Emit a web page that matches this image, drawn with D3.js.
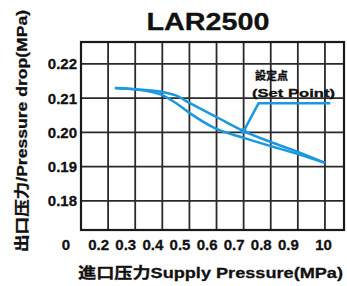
<!DOCTYPE html>
<html lang="zh">
<head>
<meta charset="UTF-8">
<title>LAR2500</title>
<script src="https://d3js.org/d3.v7.min.js"></script>
<style>
  body { margin: 0; background: #fff; }
  text { font-family: "Liberation Sans", Arial, "Noto Sans CJK SC", sans-serif; font-weight: bold; fill: #111; stroke: #111; stroke-width: 0.3; }
</style>
</head>
<body>
<div id="chart"></div>
<script>
// chart data
var title = "LAR2500";
var supplyA = [0.225, 0.3, 0.4, 0.45, 0.5, 0.6, 0.7, 0.8, 0.9, 1.0];
var dropA   = [0.213, 0.2126, 0.2118, 0.2108, 0.2086, 0.2045, 0.2004, 0.1972, 0.1943, 0.1911];
var supplyB = [0.225, 0.3, 0.4, 0.45, 0.5, 0.6, 0.7, 0.8, 0.9, 1.0];
var dropB   = [0.213, 0.2126, 0.2109, 0.2086, 0.2057, 0.201, 0.1984, 0.196, 0.1937, 0.1911];
var xTicks = [0.2, 0.3, 0.4, 0.5, 0.6, 0.7, 0.8, 0.9, 1.0];
var xTickLabels = ["0.2", "0.3", "0.4", "0.5", "0.6", "0.7", "0.8", "0.9", "10"];
var yTicks = [0.22, 0.21, 0.20, 0.19, 0.18];
var setPoint = [0.7, 0.2004];
var setLeader = [[0.7, 0.2004], [0.755, 0.2085], [1.02, 0.2085]];

var width = 347, height = 286;
var blue = "#1b98de";

var svg = d3.select("#chart").append("svg")
    .attr("width", width)
    .attr("height", height);

// scales
var x = d3.scaleLinear().domain([0.1, 1.074]).range([81, 345]);
var y = d3.scaleLinear().domain([0.1715, 0.2264]).range([230, 42]);

// grid lines
var gridX = d3.range(0.1, 1.05, 0.1);
svg.append("g").selectAll("line").data(gridX).enter().append("line")
    .attr("x1", function(d){ return x(d); })
    .attr("x2", function(d){ return x(d); })
    .attr("y1", y.range()[1])
    .attr("y2", y.range()[0])
    .attr("stroke", "#2a2a2a")
    .attr("stroke-width", 1.8);

svg.append("g").selectAll("line").data(yTicks).enter().append("line")
    .attr("x1", x.range()[0])
    .attr("x2", x.range()[1])
    .attr("y1", function(d){ return y(d); })
    .attr("y2", function(d){ return y(d); })
    .attr("stroke", "#2a2a2a")
    .attr("stroke-width", 1.8);

// frame
svg.append("rect")
    .attr("x", x.range()[0])
    .attr("y", y.range()[1])
    .attr("width", x.range()[1] - x.range()[0] - 1)
    .attr("height", y.range()[0] - y.range()[1])
    .attr("fill", "none")
    .attr("stroke", "#1a1a1a")
    .attr("stroke-width", 2.2);

// tick labels
svg.append("g").selectAll("text").data(yTicks).enter().append("text")
    .attr("x", x.range()[0] - 4)
    .attr("y", function(d){ return y(d); })
    .attr("dy", "0.36em")
    .attr("text-anchor", "end")
    .attr("font-size", "15px")
    .text(function(d){ return d3.format(".2f")(d); });

svg.append("g").selectAll("text").data(xTicks).enter().append("text")
    .attr("x", function(d, i){ return i == xTicks.length - 1 ? x(d) + 7 : x(d) + 1; })
    .attr("y", 250)
    .attr("text-anchor", "end")
    .attr("font-size", "15px")
    .text(function(d, i){ return xTickLabels[i]; });

svg.append("text")
    .attr("x", x(0.1) - 11)
    .attr("y", 250)
    .attr("text-anchor", "end")
    .attr("font-size", "15px")
    .text("0");

// curves
var line = d3.line()
    .x(function(d){ return x(d[0]); })
    .y(function(d){ return y(d[1]); })
    .curve(d3.curveMonotoneX);

svg.append("path")
    .datum(d3.zip(supplyA, dropA))
    .attr("d", line)
    .attr("fill", "none")
    .attr("stroke", blue)
    .attr("stroke-width", 2.5);

svg.append("path")
    .datum(d3.zip(supplyB, dropB))
    .attr("d", line)
    .attr("fill", "none")
    .attr("stroke", blue)
    .attr("stroke-width", 2.5);

// set point leader
svg.append("path")
    .datum(setLeader)
    .attr("d", d3.line().x(function(d){ return x(d[0]); }).y(function(d){ return y(d[1]); }))
    .attr("fill", "none")
    .attr("stroke", blue)
    .attr("stroke-width", 2.5);

svg.append("circle")
    .attr("cx", x(setPoint[0]))
    .attr("cy", y(setPoint[1]))
    .attr("r", 3)
    .attr("fill", blue);

svg.append("text")
    .attr("x", 255)
    .attr("y", 80)
    .attr("font-size", "11px")
    .text("設定点");

svg.append("text")
    .attr("x", 252)
    .attr("y", 97)
    .attr("font-size", "11px")
    .attr("textLength", 83)
    .attr("lengthAdjust", "spacingAndGlyphs")
    .text("(Set Point)");

// titles
svg.append("text")
    .attr("x", 208)
    .attr("y", 30)
    .attr("text-anchor", "middle")
    .attr("font-size", "24px")
    .attr("textLength", 123)
    .attr("lengthAdjust", "spacingAndGlyphs")
    .text(title);

svg.append("text")
    .attr("x", 78)
    .attr("y", 278)
    .attr("font-size", "15px")
    .attr("textLength", 265)
    .attr("lengthAdjust", "spacingAndGlyphs")
    .text("進口压力Supply Pressure(MPa)");

svg.append("text")
    .attr("transform", "translate(27,131) rotate(-90)")
    .attr("text-anchor", "middle")
    .attr("font-size", "15px")
    .attr("textLength", 242)
    .attr("lengthAdjust", "spacingAndGlyphs")
    .text("出口压力/Pressure drop(MPa)");
</script>
</body>
</html>
